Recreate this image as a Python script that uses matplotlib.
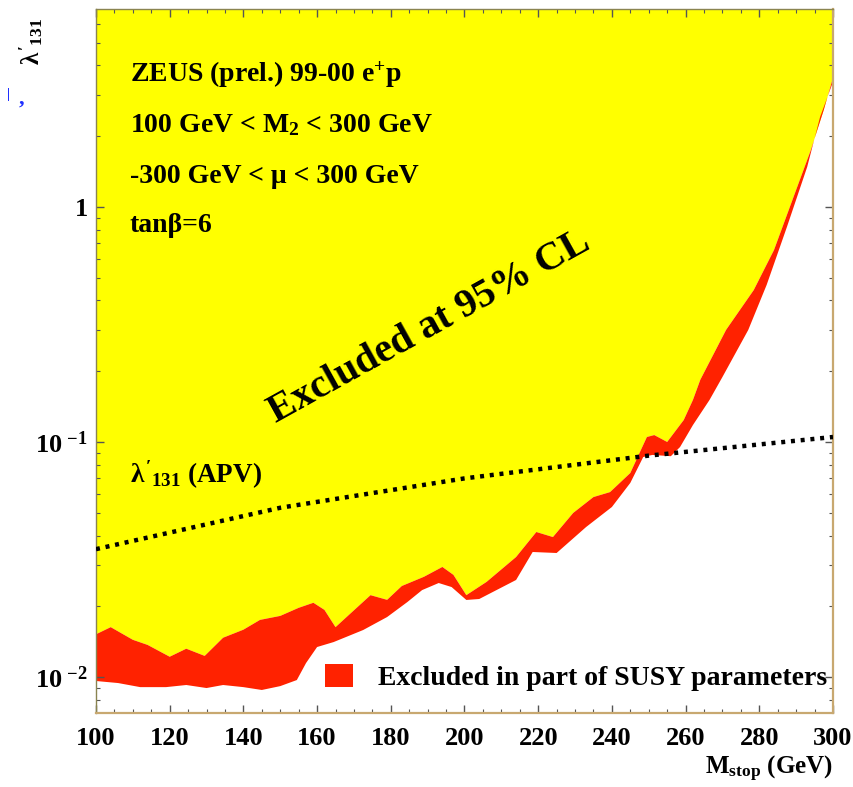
import numpy as np
import matplotlib
matplotlib.use("Agg")
import matplotlib.pyplot as plt
from matplotlib.patches import Patch
from matplotlib.ticker import FixedLocator, FixedFormatter, MultipleLocator, LogLocator, NullFormatter

plt.rcParams['font.family'] = ['Liberation Serif', 'DejaVu Serif']
plt.rcParams['font.weight'] = 'bold'
plt.rcParams['mathtext.fontset'] = 'custom'
plt.rcParams['mathtext.rm'] = 'Liberation Serif:bold'
plt.rcParams['mathtext.it'] = 'Liberation Serif:bold'
plt.rcParams['mathtext.bf'] = 'Liberation Serif:bold'

# ---- data ----
mass_upper = [100, 104, 110, 114, 120, 124.5, 129.5, 134.5, 140, 144.5, 150, 155, 159, 162,
              165, 168, 174.5, 179, 183, 189, 194, 197, 200.5, 206, 214, 219.5, 224, 229.5,
              235, 239.5, 245, 249.5, 251.5, 255, 259.5, 262, 264, 271, 278.5, 284, 289, 294,
              297.5, 300]
lam_upper = [0.0152, 0.0163, 0.0144, 0.0137, 0.0122, 0.0132, 0.0123, 0.0147, 0.0159, 0.0175,
             0.0182, 0.0197, 0.0207, 0.0193, 0.0163, 0.0180, 0.0223, 0.0213, 0.0244, 0.0267,
             0.0294, 0.0272, 0.0223, 0.0254, 0.0324, 0.0414, 0.0394, 0.0499, 0.0583, 0.0612,
             0.0738, 0.105, 0.107, 0.100, 0.124, 0.151, 0.184, 0.300, 0.443, 0.656, 1.071,
             1.748, 2.587, 3.54]

mass_lower = [100, 106, 112, 119, 124.5, 130, 134.5, 140, 145, 150, 154.5, 157, 160, 164.5,
              172.5, 179, 184.5, 188.5, 193, 196.5, 200.5, 204, 214, 218.5, 225, 233, 240, 245,
              248.5, 251, 256, 258.5, 262, 266.5, 270, 277, 282, 287.5, 293, 296.5, 300]
lam_lower = [0.00962, 0.00943, 0.00906, 0.00906, 0.00925, 0.00898, 0.00925, 0.00906, 0.00881,
             0.00915, 0.00971, 0.01147, 0.01342, 0.01409, 0.01585, 0.01800, 0.02085, 0.02344,
             0.02512, 0.02415, 0.02128, 0.02148, 0.02588, 0.03404, 0.03371, 0.04347, 0.05289,
             0.06699, 0.0863, 0.0881, 0.0870, 0.0952, 0.1181, 0.151, 0.189, 0.2996, 0.466,
             0.822, 1.480, 2.415, 3.40]

mass_apv = [100, 150, 200, 250, 300]
lam_apv = [0.035, 0.0525, 0.070, 0.0875, 0.105]

x_ticks = [100, 120, 140, 160, 180, 200, 220, 240, 260, 280, 300]
y_ticks = [0.01, 0.1, 1]
y_ticklabels = [r'$\mathbf{10}^{\ \mathbf{-2}}$', r'$\mathbf{10}^{\ \mathbf{-1}}$', r'$\mathbf{1}\quad$']

X_MIN, X_MAX = 100, 300
Y_MIN, Y_MAX = 0.00703, 6.92
Y_FILL_TOP = 10

YELLOW = '#ffff00'
RED = '#ff2200'

fig = plt.figure(figsize=(8.54, 7.87), dpi=100)
ax = fig.add_axes([0.1124, 0.094, 0.863, 0.894])
ax.set_yscale('log')

# yellow: fully excluded region
ax.fill(list(mass_upper) + [X_MAX, X_MIN], list(lam_upper) + [Y_FILL_TOP, Y_FILL_TOP],
        color=YELLOW, lw=0, zorder=1)
# red: excluded in part of parameters
ax.fill(list(mass_upper) + list(mass_lower[::-1]), list(lam_upper) + list(lam_lower[::-1]),
        color=RED, lw=0, zorder=1)

ax.plot(mass_apv, lam_apv, color='black', lw=3.2, linestyle=(0, (0.9, 1.3)),
        dash_capstyle='butt', zorder=3)

ax.set_xlim(X_MIN, X_MAX)
ax.set_ylim(Y_MIN, Y_MAX)

ax.xaxis.set_major_locator(FixedLocator(x_ticks))
ax.xaxis.set_minor_locator(MultipleLocator(5))
ax.yaxis.set_major_locator(FixedLocator(y_ticks))
ax.yaxis.set_major_formatter(FixedFormatter(y_ticklabels))
ax.yaxis.set_minor_locator(LogLocator(base=10, subs=np.arange(2, 10)))
ax.yaxis.set_minor_formatter(NullFormatter())

ax.tick_params(which='both', direction='in', top=True, right=True, color='#555555')
ax.tick_params(which='major', length=6, width=1)
ax.tick_params(which='minor', length=3, width=0.8)
ax.tick_params(axis='x', labelsize=19, pad=10)
ax.tick_params(axis='y', labelsize=19, pad=6)
for lab in ax.get_xticklabels() + ax.get_yticklabels():
    lab.set_fontweight('bold')

for s in ['bottom', 'right']:
    ax.spines[s].set_color('#c8a870')
    ax.spines[s].set_linewidth(1.6)
for s in ['left', 'top']:
    ax.spines[s].set_color('#8a8450')
    ax.spines[s].set_linewidth(1.0)

ax.set_xlabel(r'M$_{\mathrm{stop}}$ (GeV)', fontsize=18, fontweight='bold', loc='right', labelpad=3)
ax.set_ylabel(r"$\lambda'_{131}$", fontsize=18, fontweight='bold')
ax.yaxis.set_label_coords(-0.069, 0.955)

fs = 20
ax.text(0.046, 0.897, r'ZEUS (prel.) 99-00 e$^{+}$p', transform=ax.transAxes, fontsize=fs,
        fontweight='bold', va='baseline', zorder=4)
ax.text(0.046, 0.826, r'100 GeV < M$_{2}$ < 300 GeV', transform=ax.transAxes, fontsize=fs,
        fontweight='bold', va='baseline', zorder=4)
ax.text(0.046, 0.753, '-300 GeV < \u03bc < 300 GeV', transform=ax.transAxes, fontsize=fs,
        fontweight='bold', va='baseline', zorder=4)
ax.text(0.046, 0.684, 'tan\u03b2=6', transform=ax.transAxes, fontsize=fs,
        fontweight='bold', va='baseline', zorder=4)

ax.text(0.453, 0.549, 'Excluded at 95% CL', transform=ax.transAxes, fontsize=29,
        fontweight='bold', rotation=29, ha='center', va='center', rotation_mode='anchor', zorder=4)

ax.text(0.046, 0.328, r"$\lambda'_{131}$ (APV)", transform=ax.transAxes, fontsize=19.5,
        fontweight='bold', va='baseline', zorder=4)

leg = ax.legend(handles=[Patch(facecolor=RED, edgecolor='none',
                               label='Excluded in part of SUSY parameters')],
                loc='center left', bbox_to_anchor=(0.311, 0.05), frameon=False,
                fontsize=20, handlelength=1.0, handleheight=0.85, handletextpad=0.9,
                borderpad=0, borderaxespad=0)
for t in leg.get_texts():
    t.set_fontweight('bold')

# stray blue marks at the top-left corner of the original
fig.text(0.008, 1 - 98 / 787, '|', color='#2030ff', fontsize=10, fontweight='bold')
fig.text(0.022, 1 - 104 / 787, ',', color='#2030ff', fontsize=16, fontweight='bold')

fig.savefig('out.png', dpi=100)
